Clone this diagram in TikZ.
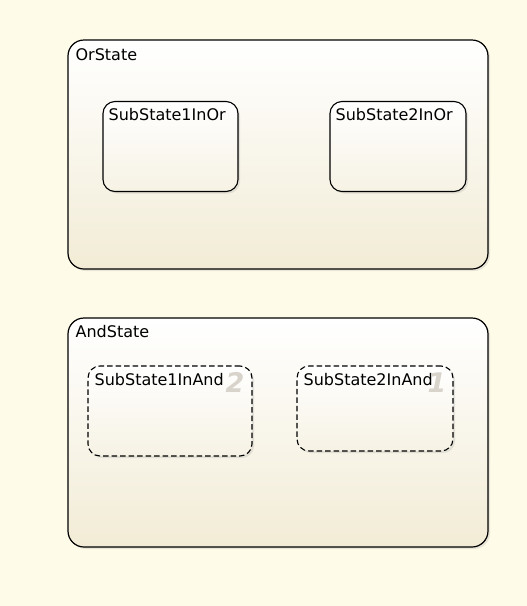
\documentclass[tikz,border=0pt]{standalone}
\usepackage{fontspec}
\setmainfont{DejaVu Sans}
\usetikzlibrary{shadows}
\definecolor{paper}{RGB}{255,251,233}
\definecolor{statebot}{RGB}{242,236,214}
\definecolor{subbot}{RGB}{246,242,228}
\definecolor{prio}{RGB}{216,212,204}

\begin{document}
\begin{tikzpicture}[x=1pt,y=-1pt,
  statebox/.style={draw=black,line width=1.2pt,rounded corners=16pt,top color=white,bottom color=statebot,
    drop shadow={opacity=0.18,shadow xshift=2pt,shadow yshift=-2pt},minimum width=420pt,minimum height=229pt,inner sep=0pt},
  subbox/.style={draw=black,line width=1.1pt,rounded corners=12pt,top color=white,bottom color=subbot,
    drop shadow={opacity=0.18,shadow xshift=2pt,shadow yshift=-2pt},minimum height=90pt,inner sep=0pt},
  andbox/.style={subbox,dash pattern=on 5.5pt off 3pt},
  lbl/.style={anchor=base west,inner sep=0pt,font=\fontsize{16}{18}\selectfont},
  prionum/.style={anchor=base east,inner sep=0pt,text=prio,font=\fontsize{27}{29}\selectfont\bfseries\itshape}]
\fill[paper] (0,0) rectangle (527,606);
\useasboundingbox (0,0) rectangle (527,606);
\node[statebox] (or) at (278,154.5) {};
\node[lbl] (orlbl) at ([xshift=8pt,yshift=-21pt]or.north west) {OrState};
\node[subbox,minimum width=135pt] (or1) at (170.5,146.5) {};
\node[lbl] (or1lbl) at ([xshift=6pt,yshift=-20pt]or1.north west) {SubState1InOr};
\node[subbox,minimum width=136pt] (or2) at (398,146.5) {};
\node[lbl] (or2lbl) at ([xshift=6pt,yshift=-20pt]or2.north west) {SubState2InOr};
\node[statebox] (and) at (278,432.5) {};
\node[lbl] (andlbl) at ([xshift=8pt,yshift=-20pt]and.north west) {AndState};
\node[andbox,minimum width=164pt] (and1) at (170,411) {};
\node[lbl] (and1lbl) at ([xshift=7pt,yshift=-20pt]and1.north west) {SubState1InAnd};
\node[prionum] (and1num) at ([xshift=-8pt,yshift=-27pt]and1.north east) {2};
\node[andbox,minimum width=156pt,minimum height=85pt] (and2) at (375,408.5) {};
\node[lbl] (and2lbl) at ([xshift=7pt,yshift=-20pt]and2.north west) {SubState2InAnd};
\node[prionum] (and2num) at ([xshift=-7pt,yshift=-27pt]and2.north east) {1};
\end{tikzpicture}
\end{document}
